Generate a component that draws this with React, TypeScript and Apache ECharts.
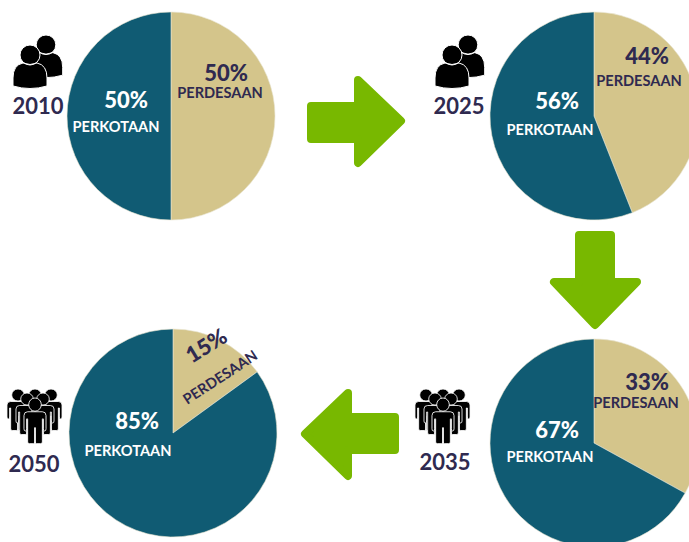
import React, { useEffect, useRef } from "react";
import * as echarts from "echarts";

const years = ["2010", "2025", "2035", "2050"];
const ruralValues = [50, 44, 33, 15];
const urbanValues = [50, 56, 67, 85];
const ruralName = "PERDESAAN";
const urbanName = "PERKOTAAN";

const TEAL = "#105b73";
const TAN = "#d4c58b";
const GREEN = "#78b800";
const INK = "#2f2a50";
const FONT = "Lato";

const centers = [[171, 116], [594, 116], [594, 443], [173, 433]];
const yearPos = [[38, 105], [459, 105], [445, 461], [34, 463]];
const ruralPctPos = [[226, 72, 0], [647, 55, 0], [647, 381, 0], [206, 345, 0.55]];
const ruralNamePos = [[220, 92, 0], [639, 80, 0], [636, 402, 0], [220, 377, 0.58]];
const urbanPctPos = [[126, 99], [557, 100], [557, 429], [137, 420]];
const urbanNamePos = [[116, 126], [550, 129], [550, 456], [128, 450]];

const PERSON =
  "M-6 6A6 6 0 1 1 6 6A6 6 0 1 1 -6 6Z" +
  "M-7 12.5L7 12.5Q10.5 12.5 10.5 16L10.5 28Q10.5 30 9.2 30Q8 30 8 28L8 19L7 19L7 40Q7 41.5 5.5 41.5L1.5 41.5Q0.4 41.5 0.4 40L0.4 27L-0.4 27L-0.4 40Q-0.4 41.5 -1.5 41.5L-5.5 41.5Q-7 41.5 -7 40L-7 19L-8 19L-8 28Q-8 30 -9.2 30Q-10.5 30 -10.5 28L-10.5 16Q-10.5 12.5 -7 12.5Z";
const BUST =
  "M-10 10A10 10 0 1 1 10 10A10 10 0 1 1 -10 10Z" +
  "M-7 18Q0 21 7 18Q17 20 17 33L17 41Q0 46 -17 41L-17 33Q-17 20 -7 18Z";

echarts.graphic.registerShape("personIcon", echarts.graphic.extendPath(PERSON as any, {}) as any);
echarts.graphic.registerShape("bustIcon", echarts.graphic.extendPath(BUST as any, {}) as any);

const pair = (dx: number) =>
  [[46, 35, 0.98], [30, 45, 1]].map(([x, y, s]) => ({
    type: "bustIcon", x: x + dx, y, scaleX: s, scaleY: s,
    style: { fill: "#000", stroke: "#fff", lineWidth: 1 },
  }));

const crowd = (dx: number) =>
  [[18, 389], [51, 389], [35, 389], [27, 393], [43, 393], [35, 398]].map(([x, y], i) => ({
    type: "personIcon", x: x + dx, y, scaleX: 1.05, scaleY: i === 5 ? 1.1 : 1,
    style: { fill: "#000", stroke: "#fff", lineWidth: 0.8 },
  }));

const arrow = (points: number[][]) => ({
  type: "polygon",
  shape: { points },
  style: { fill: GREEN, stroke: GREEN, lineWidth: 8, lineJoin: "round" },
});

const label = (text: string, x: number, y: number, size: number, weight: number, fill: string, rotation = 0) => ({
  type: "text", x, y, rotation,
  style: { text, fill, fontFamily: FONT, fontSize: size, fontWeight: weight, textAlign: "center", textVerticalAlign: "middle" },
});

export default function App() {
  const ref = useRef<HTMLDivElement>(null);
  useEffect(() => {
    document.body.style.margin = "0";
    const chart = echarts.init(ref.current!, null, { renderer: "svg" });
    const graphics: any[] = [
      arrow([[311, 106], [358, 106], [358, 80], [401, 121], [358, 163], [358, 139], [311, 139]]),
      arrow([[579, 235], [611, 235], [611, 282], [637, 282], [595, 325], [554, 282], [579, 282]]),
      arrow([[395, 417], [348, 417], [348, 393], [305, 434], [348, 476], [348, 450], [395, 450]]),
      ...pair(0), ...pair(422), ...crowd(408), ...crowd(0),
    ];
    years.forEach((y, i) => {
      graphics.push(label(y, yearPos[i][0], yearPos[i][1], 22, 700, INK));
      graphics.push(label(`${ruralValues[i]}%`, ruralPctPos[i][0], ruralPctPos[i][1], 22, 900, INK, ruralPctPos[i][2]));
      graphics.push(label(ruralName, ruralNamePos[i][0], ruralNamePos[i][1], 14.6, 700, INK, ruralNamePos[i][2]));
      graphics.push(label(`${urbanValues[i]}%`, urbanPctPos[i][0], urbanPctPos[i][1], 22, 900, "#fff"));
      graphics.push(label(urbanName, urbanNamePos[i][0], urbanNamePos[i][1], 14.6, 700, "#fff"));
    });
    chart.setOption({
      animation: false,
      graphic: graphics.map((g) => ({ ...g, z: 10 })),
      series: years.map((year, i) => ({
        type: "pie",
        name: year,
        center: centers[i],
        radius: [0, 104],
        startAngle: 90,
        clockwise: true,
        silent: true,
        label: { show: false },
        labelLine: { show: false },
        itemStyle: { borderColor: "#e8e4d0", borderWidth: 0.6 },
        data: [
          { name: ruralName, value: ruralValues[i], itemStyle: { color: TAN } },
          { name: urbanName, value: urbanValues[i], itemStyle: { color: TEAL } },
        ],
      })),
    });
    return () => chart.dispose();
  }, []);
  return <div ref={ref} style={{ width: 689, height: 542, overflow: "hidden" }} />;
}
